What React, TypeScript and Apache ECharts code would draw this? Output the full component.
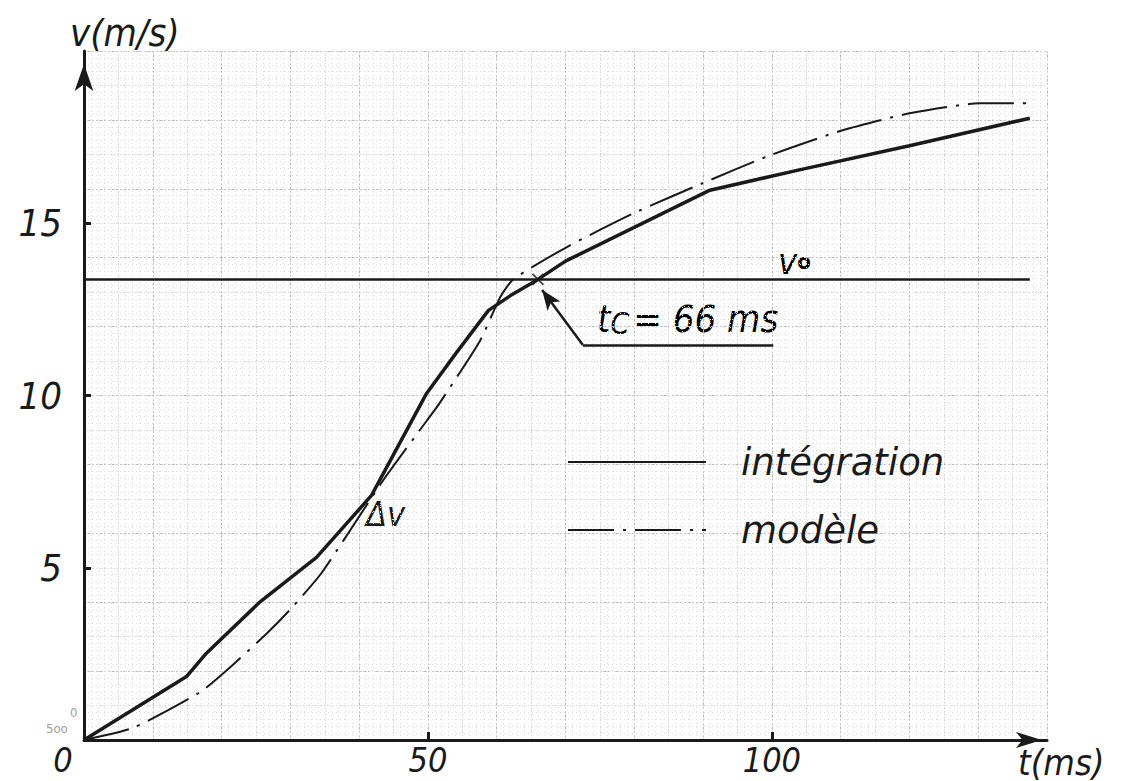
import React, { useEffect, useRef } from 'react';
import * as echarts from 'echarts';

// integration curve (solid)
const tIntegration = [0, 14.9, 17.8, 25.6, 33.8, 41.8, 49.8, 54.2, 58.8, 62, 66, 70, 91, 104, 120, 137.5];
const vIntegration = [0, 1.84, 2.52, 4.01, 5.3, 7.1, 10.06, 11.26, 12.47, 12.9, 13.37, 13.9, 15.96, 16.55, 17.25, 18.05];
// model curve (dash-dot)
const tModel = [0, 7.1, 16.9, 20.8, 26.6, 29.9, 34.5, 43.5, 49.8, 51.7, 57.6, 60.5, 62.4, 70.2, 79.8, 89.9, 99.7, 110.3, 120, 130.2, 137.5];
const vModel = [0, 0.35, 1.39, 2.03, 3.1, 3.77, 4.84, 7.54, 9.26, 9.78, 11.6, 12.85, 13.37, 14.31, 15.28, 16.16, 16.97, 17.7, 18.19, 18.48, 18.48];
// v0 level and crossing time
const v0 = 13.37;
const v0Span = [0, 137.5];
const tC = 66;
// leader line of the t_C annotation
const leaderT = [100.2, 72.5, 66.6];
const leaderV = [11.47, 11.47, 13.06];
// ticks
const xTickLabels = [0, 50, 100];
const xTickMarks = [50, 100];
const yTickLabels = [5, 10, 15];

const FONT = "'DejaVu Sans Condensed', 'Liberation Sans', 'DejaVu Sans', sans-serif";
const FONT_WIDE = "'DejaVu Sans', 'Liberation Sans', sans-serif";
const INK = '#1a1a1a';

export default function App() {
  const ref = useRef<HTMLDivElement>(null);

  useEffect(() => {
    const chart = echarts.init(ref.current as HTMLDivElement, null, { renderer: 'svg' });

    const gridAxis = (max: number, interval: number, color: string, type: any, minor: boolean, minorColor?: string) => ({
      type: 'value',
      min: 0,
      max,
      interval,
      axisLine: { show: false },
      axisTick: { show: false },
      axisLabel: { show: false },
      splitLine: { show: true, lineStyle: { color, width: 1, type } },
      minorTick: { show: false, splitNumber: 10 },
      minorSplitLine: { show: minor, lineStyle: { color: minorColor || '#ddd', width: 1, type: [1, 3] } },
    });

    const labelStyle = { fontSize: 38, fontStyle: 'italic', fontFamily: FONT, color: INK };
    const xLabelStyle = { fontSize: 34, fontStyle: 'italic', fontFamily: FONT, color: INK, lineHeight: 32 };

    const option: any = {
      animation: false,
      backgroundColor: '#ffffff',
      grid: { left: 84, right: 77, top: 51, bottom: 41, containLabel: false },
      xAxis: [
        {
          type: 'value',
          min: 0,
          max: 140,
          z: 5,
          axisLine: {
            show: true,
            lineStyle: { color: INK, width: 3 },
            symbol: ['none', 'arrow'],
            symbolSize: [12, 26],
            symbolOffset: [0, -5],
          },
          axisTick: { show: true, customValues: xTickMarks, inside: true, length: 8, lineStyle: { color: INK, width: 3 } },
          axisLabel: {
            customValues: xTickLabels,
            margin: 4,
            ...xLabelStyle,
            formatter: (v: number) => (v === 0 ? '{z|0}' : String(v)),
            rich: { z: { ...xLabelStyle, padding: [0, 42, 0, 0] } },
          },
          splitLine: { show: false },
        },
        gridAxis(140, 10, '#b8b8b8', [2, 2], true, '#dedede'),
        gridAxis(140, 5, '#d4d4d4', [1, 2], false),
      ],
      yAxis: [
        {
          type: 'value',
          min: 0,
          max: 20,
          z: 5,
          axisLine: {
            show: true,
            lineStyle: { color: INK, width: 3 },
            symbol: ['none', 'arrow'],
            symbolSize: [14, 27],
            symbolOffset: [0, -13],
          },
          axisTick: { show: true, customValues: yTickLabels, inside: true, length: 7, lineStyle: { color: INK, width: 3 } },
          axisLabel: { customValues: yTickLabels, margin: 22, ...labelStyle },
          splitLine: { show: false },
        },
        gridAxis(20, 2, '#b8b8b8', [2, 2], true, '#dedede'),
        gridAxis(20, 1, '#d4d4d4', [1, 2], false),
      ],
      legend: {
        data: ['intégration', 'modèle'],
        orient: 'vertical',
        left: 562,
        top: 437,
        itemWidth: 138,
        itemHeight: 20,
        itemGap: 28,
        itemStyle: { opacity: 0 },
        textStyle: {
          fontSize: 37,
          fontStyle: 'italic',
          fontFamily: FONT_WIDE,
          color: INK,
          lineHeight: 40,
          padding: [0, 0, 0, 30],
        },
        selectedMode: false,
      },
      series: [
        {
          name: 'v0',
          type: 'line',
          symbol: 'none',
          data: v0Span.map((t) => [t, v0]),
          lineStyle: { color: INK, width: 2.5 },
          z: 3,
          markLine: {
            silent: true,
            animation: false,
            label: { show: false },
            lineStyle: { color: INK, width: 2.5, type: 'solid' },
            data: [
              [
                { coord: [leaderT[0], leaderV[0]], symbol: 'none' },
                { coord: [leaderT[1], leaderV[1]], symbol: 'none' },
              ],
              [
                { coord: [leaderT[1], leaderV[1]], symbol: 'none' },
                { coord: [leaderT[2], leaderV[2]], symbol: 'arrow', symbolSize: [12, 20] },
              ],
            ],
          },
        },
        {
          name: 'intégration',
          type: 'line',
          symbol: 'none',
          data: tIntegration.map((t, i) => [t, vIntegration[i]]),
          lineStyle: { color: INK, width: 3.5 },
          itemStyle: { color: INK },
          z: 4,
        },
        {
          name: 'modèle',
          type: 'line',
          symbol: 'none',
          smooth: 0.2,
          data: tModel.map((t, i) => [t, vModel[i]]),
          lineStyle: { color: INK, width: 2, type: [46, 9, 3, 9] },
          itemStyle: { color: INK },
          z: 4,
        },
        {
          name: 'tc',
          type: 'scatter',
          data: [[tC, v0]],
          symbol: 'path://M0,0L10,10M10,0L0,10',
          symbolSize: 11,
          itemStyle: { color: 'rgba(0,0,0,0)', borderColor: INK, borderWidth: 2 },
          z: 6,
        },
      ],
      graphic: [
        { type: 'text', left: 70, top: 14, style: { text: 'v(m/s)', fontSize: 38, fontStyle: 'italic', fontFamily: FONT, fill: INK } },
        { type: 'text', left: 1018, top: 744, style: { text: 't(ms)', fontSize: 36, fontStyle: 'italic', fontFamily: FONT, fill: INK, lineHeight: 32 } },
        {
          type: 'text',
          left: 778,
          top: 243,
          style: {
            text: '{a|v}{b|o}',
            rich: {
              a: { fontSize: 36, fontStyle: 'italic', fontFamily: FONT, color: INK },
              b: { fontSize: 22, fontFamily: FONT, color: INK, fontWeight: 'bold' },
            },
          },
        },
        {
          type: 'text',
          left: 597,
          top: 300,
          style: {
            text: '{a|t}{b|C}{a|= 66 ms}',
            rich: {
              a: { fontSize: 38, fontStyle: 'italic', fontFamily: FONT, color: INK, verticalAlign: 'bottom' },
              b: { fontSize: 30, fontStyle: 'italic', fontFamily: FONT, color: INK, padding: [16, 4, 0, 0], verticalAlign: 'bottom' },
            },
          },
        },
        { type: 'text', left: 366, top: 497, style: { text: 'Δv', fontSize: 34, fontStyle: 'italic', fontFamily: FONT, fill: INK } },
        { type: 'text', left: 46, top: 722, style: { text: '5oo', fontSize: 13, fontFamily: FONT, fill: '#a0a0a0' } },
        { type: 'text', left: 70, top: 706, style: { text: '0', fontSize: 13, fontFamily: FONT, fill: '#a0a0a0' } },
      ],
    };

    chart.setOption(option);
    return () => chart.dispose();
  }, []);

  return (
    <div
      ref={ref}
      style={{ position: 'absolute', left: 0, top: 0, width: 1124, height: 781, background: '#ffffff' }}
    />
  );
}
